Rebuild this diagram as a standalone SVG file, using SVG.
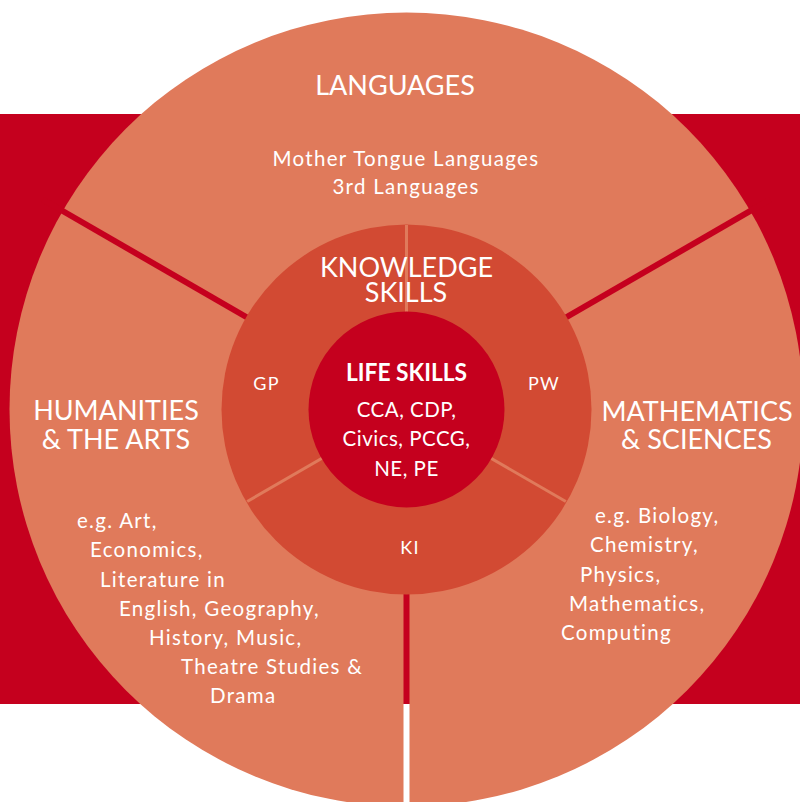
<svg xmlns="http://www.w3.org/2000/svg" width="800" height="802" viewBox="0 0 800 802">
  <style>
    .t { font-family: Lato, "Open Sans", sans-serif; fill: #ffffff; }
    .title { font-size: 27px; text-anchor: middle; }
    .body { font-size: 20.5px; letter-spacing: 1.3px; }
    .core-body { font-size: 20.5px; letter-spacing: 0.5px; text-anchor: middle; }
    .mid { text-anchor: middle; }
    .seg { font-size: 18px; letter-spacing: 1.2px; text-anchor: middle; }
    .life { font-size: 25px; font-weight: bold; text-anchor: middle; }
    .outer { fill: #E07A5B; }
    .ring { fill: #D24A33; }
    .core { fill: #C5001E; }
    .gap { stroke: #C5001E; stroke-width: 6; }
    .gapw { stroke: #ffffff; stroke-width: 6; }
    .thin { stroke: #E07A5B; stroke-width: 3; }
  </style>
  <rect id="background" x="0" y="0" width="800" height="802" fill="#ffffff"/>
  <rect id="band" x="0" y="114" width="800" height="590" fill="#C5001E"/>

  <g id="outer-ring">
    <circle class="outer" cx="406.5" cy="409.5" r="397"/>
  </g>

  <g id="connectors">
    <line class="gap" x1="406.5" y1="409.5" x2="42.8" y2="199.5"/>
    <line class="gap" x1="406.5" y1="409.5" x2="770.2" y2="199.5"/>
    <line class="gap" x1="406.5" y1="409.5" x2="406.5" y2="704"/>
    <line class="gapw" x1="406.5" y1="704" x2="406.5" y2="812"/>
  </g>

  <g id="languages">
    <text class="t title" x="395" y="95">LANGUAGES</text>
    <text class="t body mid" x="406" y="166">Mother Tongue Languages</text>
    <text class="t body mid" x="406" y="194">3rd Languages</text>
  </g>

  <g id="humanities">
    <text class="t title" x="116" y="420">HUMANITIES</text>
    <text class="t title" x="116" y="449">&amp; THE ARTS</text>
    <text class="t body" x="77" y="528">e.g. Art,</text>
    <text class="t body" x="90" y="557">Economics,</text>
    <text class="t body" x="100" y="587">Literature in</text>
    <text class="t body" x="119" y="616">English, Geography,</text>
    <text class="t body" x="149" y="645">History, Music,</text>
    <text class="t body" x="181" y="674">Theatre Studies &amp;</text>
    <text class="t body" x="210" y="703">Drama</text>
  </g>

  <g id="mathematics">
    <text class="t title" x="697" y="421">MATHEMATICS</text>
    <text class="t title" x="696.5" y="449">&amp; SCIENCES</text>
    <text class="t body" x="595" y="523">e.g. Biology,</text>
    <text class="t body" x="590" y="552">Chemistry,</text>
    <text class="t body" x="580" y="582">Physics,</text>
    <text class="t body" x="569" y="611">Mathematics,</text>
    <text class="t body" x="561" y="640">Computing</text>
  </g>

  <g id="knowledge-skills">
    <circle class="ring" cx="406.5" cy="409.5" r="185"/>
    <line class="thin" x1="406.5" y1="409.5" x2="406.5" y2="225"/>
    <line class="thin" x1="406.5" y1="409.5" x2="247.2" y2="501.5"/>
    <line class="thin" x1="406.5" y1="409.5" x2="565.8" y2="501.5"/>
    <text class="t title" x="406.5" y="277">KNOWLEDGE</text>
    <text class="t title" x="406" y="302">SKILLS</text>
  </g>

  <g id="gp"><text class="t seg" x="266.5" y="390">GP</text></g>
  <g id="pw"><text class="t seg" x="544" y="390">PW</text></g>
  <g id="ki"><text class="t seg" x="410" y="554">KI</text></g>

  <g id="life-skills">
    <circle class="core" cx="406.5" cy="409.5" r="98"/>
    <text class="t life" x="406.5" y="381" textLength="121" lengthAdjust="spacingAndGlyphs">LIFE SKILLS</text>
    <text class="t core-body" x="406.5" y="417">CCA, CDP,</text>
    <text class="t core-body" x="406.5" y="446">Civics, PCCG,</text>
    <text class="t core-body" x="406.5" y="476">NE, PE</text>
  </g>
</svg>
